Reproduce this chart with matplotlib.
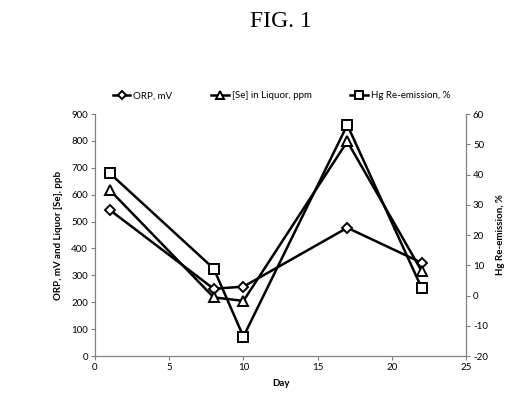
import matplotlib
matplotlib.use("Agg")
import matplotlib.pyplot as plt

plt.rcParams['font.family'] = ['Lato', 'DejaVu Sans']
plt.rcParams['axes.unicode_minus'] = False

days = [1, 8, 10, 17, 22]
orp_mv = [543, 250, 258, 477, 347]
se_ppm = [617, 218, 205, 798, 317]
hg_reemission = [40.4, 8.9, -13.6, 56.4, 2.6]

fig = plt.figure(figsize=(5.26, 3.98), dpi=100)
ax = fig.add_axes([0.1806, 0.1055, 0.7054, 0.608])
ax2 = ax.twinx()

lw = 1.8
mk = dict(markerfacecolor='white', markeredgecolor='black', markeredgewidth=1.4)
l1, = ax.plot(days, orp_mv, '-', color='black', lw=lw, marker='D', markersize=5, label='ORP, mV', **mk)
l2, = ax.plot(days, se_ppm, '-', color='black', lw=lw, marker='^', markersize=7, label='[Se] in Liquor, ppm', **mk)
l3, = ax2.plot(days, hg_reemission, '-', color='black', lw=lw, marker='s', markersize=7, label='Hg Re-emission, %', **mk)

ax.set_xlim(0, 25)
ax.set_ylim(0, 900)
ax2.set_ylim(-20, 60)
ax.set_xticks(range(0, 26, 5))
ax.set_yticks(range(0, 901, 100))
ax2.set_yticks(range(-20, 61, 10))

for a in (ax, ax2):
    a.tick_params(labelsize=7, length=3, width=0.8, color='#808080', pad=2)
    for s in a.spines.values():
        s.set_visible(False)
ax.spines['left'].set_visible(True)
ax.spines['bottom'].set_visible(True)
ax2.spines['right'].set_visible(True)
for s in (ax.spines['left'], ax.spines['bottom'], ax2.spines['right']):
    s.set_color('#808080')
    s.set_linewidth(0.9)

ax.set_xlabel('Day', fontsize=7, fontweight='bold', labelpad=5)
ax.set_ylabel('ORP, mV and Liquor [Se], ppb', fontsize=7, fontweight='bold', labelpad=6)
ax2.set_ylabel('Hg Re-emission, %', fontsize=7, fontweight='bold', labelpad=6)

fig.legend(handles=[l1, l2, l3], loc='center', bbox_to_anchor=(0.535, 0.759), ncol=3,
           frameon=False, fontsize=7, handlelength=1.8, columnspacing=4.0, handletextpad=0.3,
           markerscale=0.8)

fig.text(0.534, 0.945, 'FIG. 1', family='Liberation Serif', fontsize=17, ha='center', va='center')

fig.savefig('out.png', dpi=100)
